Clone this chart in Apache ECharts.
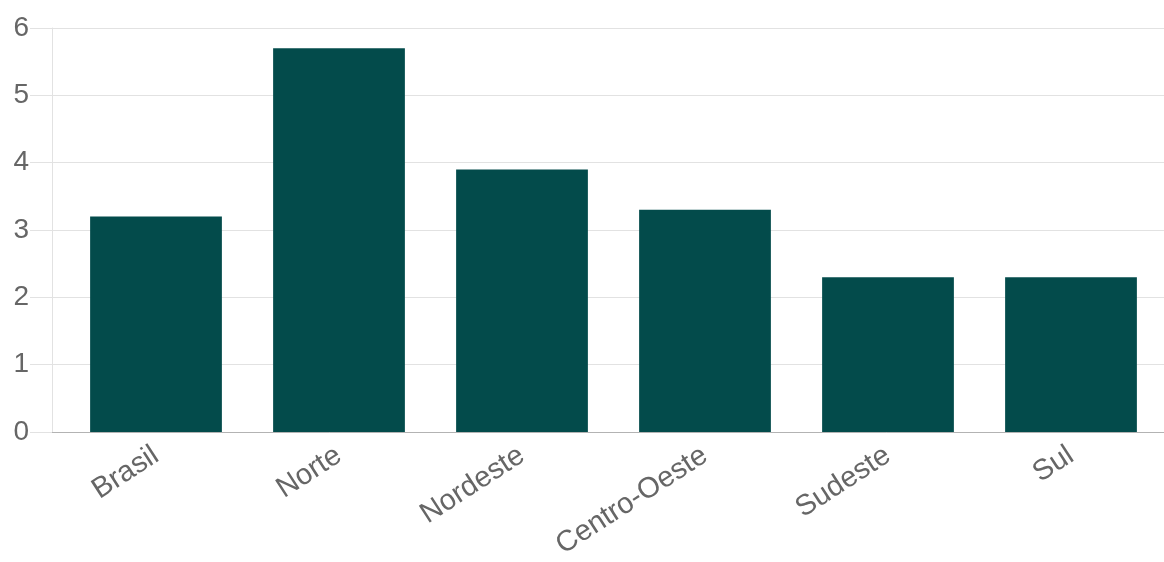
<!DOCTYPE html>
<html>
<head>
<meta charset="utf-8">
<script src="https://cdn.jsdelivr.net/npm/echarts@6/dist/echarts.min.js"></script>
<style>
  html, body { margin: 0; padding: 0; background: #fff; }
  #chart { width: 1164px; height: 562px; }
</style>
</head>
<body>
<div id="chart"></div>
<script>
// regiões e valores
const regioes = ["Brasil", "Norte", "Nordeste", "Centro-Oeste", "Sudeste", "Sul"];
const valores = [3.2, 5.7, 3.9, 3.3, 2.3, 2.3];

const fonte = "'Liberation Sans', Arial, sans-serif";
const chart = echarts.init(document.getElementById("chart"));

chart.setOption({
  animation: false,
  grid: [
    // fundo: linhas de grade e eixo y
    { left: 52, right: 0, top: 28, bottom: 130 },
    // barras
    { left: 64.5, right: 1.5, top: 28, bottom: 130 }
  ],
  xAxis: [
    {
      gridIndex: 0,
      type: "value",
      min: 0,
      max: 1,
      axisLine: { show: true, lineStyle: { color: "#b3b3b3", width: 1 } },
      axisTick: { show: false },
      axisLabel: { show: false },
      splitLine: { show: false }
    },
    {
      gridIndex: 1,
      type: "category",
      data: regioes,
      axisLine: { show: false },
      axisTick: { show: false },
      axisLabel: {
        rotate: 33,
        margin: 21,
        fontSize: 29,
        fontFamily: fonte,
        color: "#666"
      }
    }
  ],
  yAxis: [
    {
      gridIndex: 0,
      type: "value",
      min: 0,
      max: 6,
      interval: 1,
      axisLine: { show: true, lineStyle: { color: "#e2e2e2" } },
      axisTick: { show: true, length: 22, lineStyle: { color: "#e2e2e2" } },
      axisLabel: { margin: 23, fontSize: 28, fontFamily: fonte, color: "#666" },
      splitLine: { show: true, lineStyle: { color: "#e2e2e2" } }
    },
    {
      gridIndex: 1,
      type: "value",
      min: 0,
      max: 6,
      show: false,
      splitLine: { show: false }
    }
  ],
  series: [
    {
      type: "bar",
      xAxisIndex: 1,
      yAxisIndex: 1,
      data: valores,
      barCategoryGap: "28%",
      itemStyle: { color: "#034b4b" }
    }
  ]
});
</script>
</body>
</html>
